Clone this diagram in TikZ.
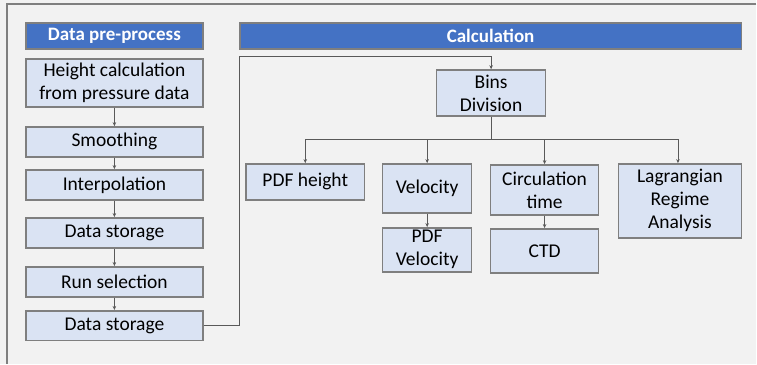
\documentclass[tikz,border=0pt]{standalone}
\usepackage{fontspec}
\setmainfont{Carlito}
\usetikzlibrary{arrows.meta}
\definecolor{bggrey}{HTML}{F2F2F2}
\definecolor{hblue}{HTML}{4472C4}
\definecolor{bfill}{HTML}{DAE3F3}
\definecolor{edgegrey}{HTML}{7F7F7F}
\definecolor{wire}{HTML}{595959}
\begin{document}
\begin{tikzpicture}[x=1pt, y=-1pt,
  head/.style={draw=edgegrey, line width=1.5pt, fill=hblue, text=white, font=\bfseries\fontsize{19}{23}\selectfont, minimum height=26pt, inner sep=0pt},
  proc/.style={draw=edgegrey, line width=1.5pt, fill=bfill, align=center, font=\fontsize{19.5}{23}\selectfont, inner sep=0pt},
  link/.style={draw=wire, line width=0.8pt, -{Stealth[length=4pt, width=3.5pt]}}
]
  \fill[bggrey] (0,0) rectangle (757,364);
  \draw[edgegrey, line width=1.2pt] (757,4) -- (7,4) -- (7,364);

  % pre-process column
  \node[head, minimum width=177pt] (pre) at (114.5,36) {Data pre-process};
  \node[proc, minimum width=177pt, minimum height=48pt] (hgt) at (114.5,83) {Height calculation\\from pressure data};
  \node[proc, minimum width=177pt, minimum height=30pt] (smooth) at (114.5,142) {Smoothing};
  \node[proc, minimum width=177pt, minimum height=30pt] (interp) at (114.5,185) {Interpolation};
  \node[proc, minimum width=177pt, minimum height=30pt] (store1) at (114.5,233) {Data storage};
  \node[proc, minimum width=177pt, minimum height=30pt] (runsel) at (114.5,282) {Run selection};
  \node[proc, minimum width=177pt, minimum height=30pt] (store2) at (114.5,326) {Data storage};
  \draw[link] (hgt) -- (smooth);
  \draw[link] (smooth) -- (interp);
  \draw[link] (interp) -- (store1);
  \draw[link] (store1) -- (runsel);
  \draw[link] (runsel) -- (store2);

  % calculation part
  \node[head, minimum width=502pt] (calc) at (491,36) {Calculation};
  \node[proc, minimum width=109pt, minimum height=46pt] (bins) at (491.5,93) {Bins\\Division};
  \node[proc, minimum width=119pt, minimum height=36pt] (pdfh) at (305.5,182) {PDF height};
  \node[proc, minimum width=89pt, minimum height=49pt] (vel) at (427.5,188.5) {Velocity};
  \node[proc, minimum width=89pt, minimum height=44pt] (pdfv) at (427.5,250) {PDF\\Velocity};
  \node[proc, minimum width=108pt, minimum height=50pt] (circ) at (545,190) {Circulation\\time};
  \node[proc, minimum width=108pt, minimum height=44pt] (ctd) at (545,251) {CTD};
  \node[proc, minimum width=123pt, minimum height=74pt] (lag) at (680.5,201) {Lagrangian\\Regime\\Analysis};

  \coordinate (bend) at (240,56);
  \coordinate (bus) at (491.5,140);
  \draw[link] (store2.east) -| (bend) -| (bins.north);
  \draw[wire, line width=0.8pt] (bins.south) -- (bus);
  \draw[link] (bus) -| (pdfh.north);
  \draw[link] (bus) -| (vel.north);
  \draw[link] (bus) -| (circ.north);
  \draw[link] (bus) -| ([xshift=-2pt]lag.north);
  \draw[link] (vel) -- (pdfv);
  \draw[link] (circ) -- (ctd);
\end{tikzpicture}
\end{document}
